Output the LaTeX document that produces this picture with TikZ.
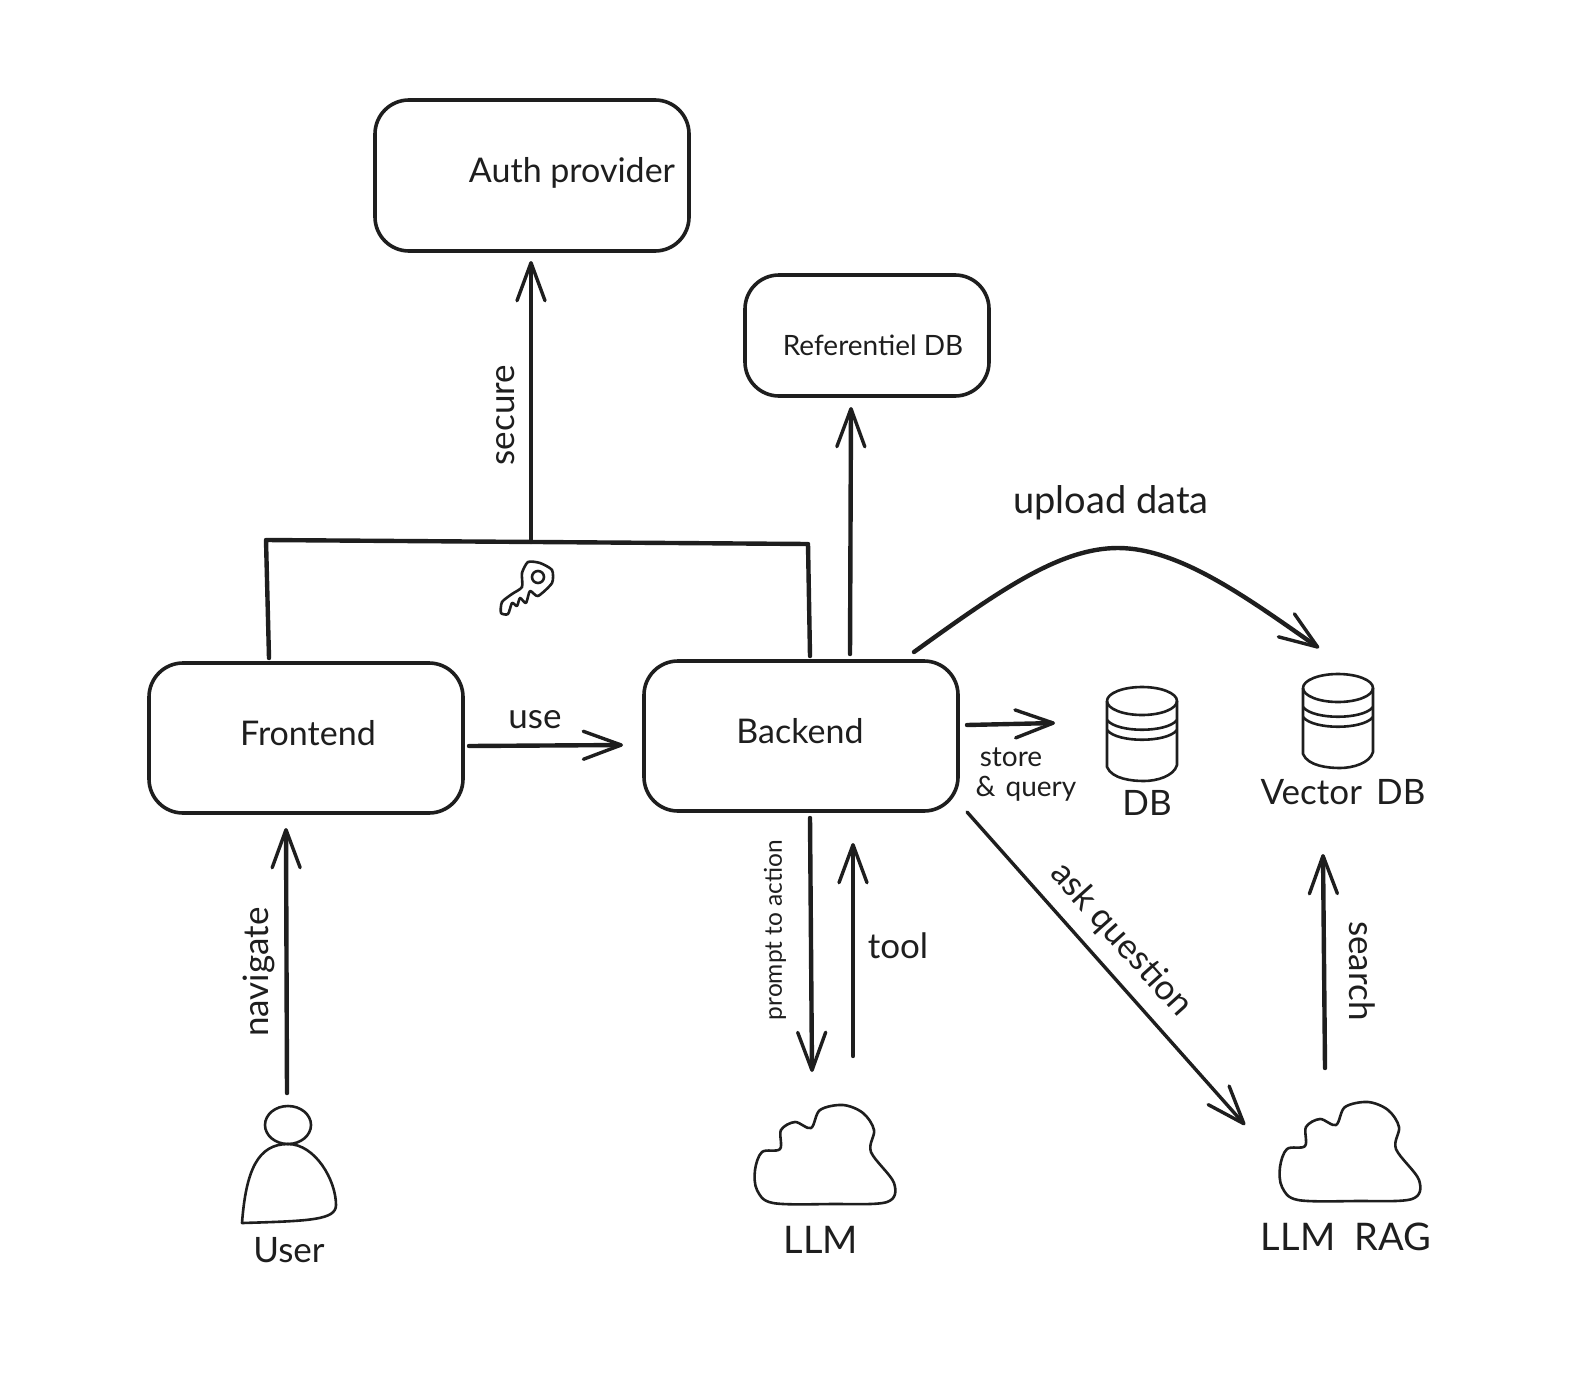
\documentclass[tikz,border=0pt]{standalone}
\usepackage{fontspec}
\setmainfont{Lato}
\usetikzlibrary{arrows.meta,shapes.geometric}
\definecolor{ink}{HTML}{1E1E1E}
\begin{document}
\begin{tikzpicture}[x=1pt,y=-1pt,
  every node/.style={inner sep=0pt, outer sep=0pt, text=ink},
  box/.style={draw=ink, line width=3.6pt, rounded corners=34pt},
  wire/.style={draw=ink, line width=4.4pt, line cap=round, line join=round},
  link/.style={wire, -{Straight Barb[length=38pt,width=28pt,line width=3.4pt,round]}},
  thinlink/.style={link, line width=3.4pt},
  sketch/.style={draw=ink, line width=2.6pt, line join=round},
  hugelabel/.style={font=\fontsize{38}{42}\selectfont},
  biglabel/.style={font=\fontsize{35}{40}\selectfont},
  boxlabel/.style={font=\fontsize{34}{38}\selectfont},
  midlabel/.style={font=\fontsize{28}{32}\selectfont},
  smalllabel/.style={font=\fontsize{24.5}{28}\selectfont},
  cloudpic/.pic={
    \draw[sketch] plot[smooth cycle, tension=0.55] coordinates {(-49,48) (-65,35) (-67,15) (-60,-3) (-42,-6) (-41,-25)
      (-27,-33) (-11,-27) (-2,-45) (21,-50) (41,-42) (52,-25) (49,-3) (72,28) (65,47) (10,49)};
  },
  dbpic/.pic={
    \draw[sketch] (0,0) ellipse [x radius=35, y radius=14];
    \draw[sketch] (-35,0) -- (-35,66) .. controls (-30,78) and (-10,80) .. (2,80)
      .. controls (15,80) and (32,75) .. (35,64) -- (35,0);
    \draw[sketch] (-35,19) .. controls (-25,32) and (25,32) .. (35,19);
    \draw[sketch] (-35,29) .. controls (-25,42) and (25,42) .. (35,29);
  }]
\useasboundingbox (0,0) rectangle (1594,1391);

\node[box, minimum width=314pt, minimum height=151pt] (auth) at (532,175.5) {};
\node[box, minimum width=244pt, minimum height=121pt] (ref) at (867,335.5) {};
\node[box, minimum width=314pt, minimum height=150pt] (frontend) at (306,738) {};
\node[box, minimum width=314pt, minimum height=150pt] (backend) at (801,736) {};

\node[boxlabel] (authlabel) at (572,173) {Auth provider};
\node[midlabel] (reflabel) at (873,345) {Referentiel DB};
\node[boxlabel] (frontendlabel) at (308,733) {Frontend};
\node[boxlabel] (backendlabel) at (800,731) {Backend};

\coordinate (llmcloud) at (822,1155);
\coordinate (ragcloud) at (1347,1152);
\coordinate (dbtop) at (1142,701);
\coordinate (vectop) at (1338,688);
\pic at (llmcloud) {cloudpic};
\pic at (ragcloud) {cloudpic};
\pic at (dbtop) {dbpic};
\pic at (vectop) {dbpic};

\node[sketch, draw, ellipse, minimum width=46pt, minimum height=38pt] (userhead) at (288,1125) {};
\draw[sketch] (242,1223) .. controls (246,1170) and (258,1144) .. (288,1144)
  .. controls (315,1144) and (336,1180) .. (336,1205) .. controls (336,1220) and (310,1221) .. (242,1223) -- cycle;

\node[biglabel] (userlabel) at (289,1250) {User};
\node[hugelabel] (llmlabel) at (821,1240) {LLM};
\node[hugelabel] (raglabel) at (1346,1237) {LLM\hspace{0.25em} RAG};
\node[biglabel] (dblabel) at (1147,803) {DB};
\node[biglabel] (veclabel) at (1343,792) {Vector\hspace{0.15em} DB};

\coordinate (busleft) at (266,540);
\coordinate (busright) at (808,544);
\coordinate (busmid) at (531,542);
\coordinate (uploadtop) at (1118,548);

\draw[wire] ([xshift=-37pt,yshift=5pt]frontend.north) -- (busleft) -- (busright) -- ([xshift=9pt,yshift=5pt]backend.north);
\draw[link] (busmid) -- ([xshift=-1pt,yshift=-10pt]auth.south);
\draw[link] ([xshift=49pt,yshift=7pt]backend.north) -- ([xshift=-16pt,yshift=-11pt]ref.south);
\draw[link] ([xshift=6pt,yshift=-8pt]frontend.east) -- ([xshift=-21pt,yshift=-9pt]backend.west);
\draw[link] ([xshift=9pt,yshift=11pt]backend.east) -- ([xshift=-87pt,yshift=-22pt]dbtop);
\draw[link] ([xshift=113pt,yshift=9pt]backend.north) .. controls (1000,590) and (1060,548) .. (uploadtop)
  .. controls (1180,548) and (1250,600) .. ([xshift=-19pt,yshift=40pt]vectop);
\draw[thinlink] ([xshift=9pt,yshift=-1pt]backend.south east) -- ([xshift=-102pt,yshift=27pt]ragcloud);
\draw[link] ([xshift=-22pt,yshift=84pt]ragcloud) -- ([xshift=-15pt,yshift=-166pt]vectop);
\draw[link] ([xshift=9pt,yshift=-7pt]backend.south) -- ([xshift=-10pt,yshift=83pt]llmcloud);
\draw[link] ([xshift=31pt,yshift=99pt]llmcloud) -- ([xshift=52pt,yshift=-32pt]backend.south);
\draw[link] ([xshift=-1pt,yshift=13pt]userhead.north) -- ([xshift=-20pt,yshift=-15pt]frontend.south);

\node[biglabel] (uselabel) at (535,720) {use};
\node[hugelabel] (uploadlabel) at (1111,503) {upload data};
\node[midlabel] (storelabel) at (1011,757) {store};
\node[midlabel] (querylabel) at (1026,789) {\&\hspace{0.1em} query};
\node[biglabel, rotate=90] (securelabel) at (506,415) {secure};
\node[biglabel, rotate=90] (navlabel) at (259,972) {navigate};
\node[smalllabel, rotate=90] (promptlabel) at (775,930) {prompt to action};
\node[biglabel] (toollabel) at (898,946) {tool};
\node[biglabel, rotate=-48] (asklabel) at (1121,940) {ask question};
\node[biglabel, rotate=-90] (searchlabel) at (1362,971) {search};

\draw[sketch] plot[smooth cycle, tension=0.4] coordinates {(502,602) (501,613) (508,614) (512,603) (517,606) (520,598) (526,603) (530,591)
  (538,596) (552,583) (552,570) (540,563) (528,562) (522,573) (522,587) (512,594)};
\draw[sketch] (538,577) circle [radius=6];
\end{tikzpicture}
\end{document}
